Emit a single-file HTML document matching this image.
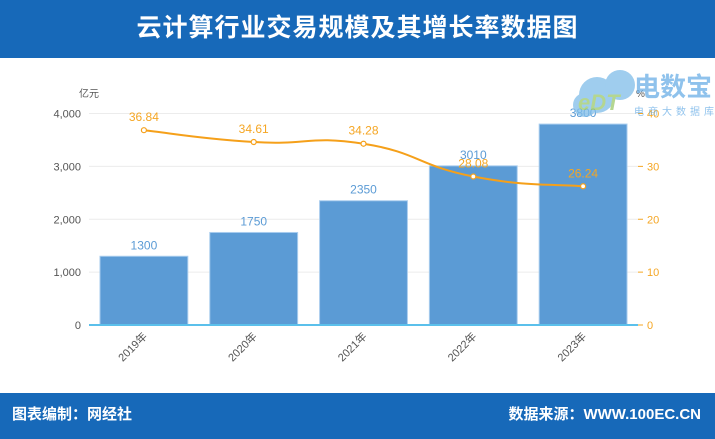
<!DOCTYPE html>
<html><head><meta charset="utf-8"><style>
body{margin:0;width:715px;height:439px;overflow:hidden;background:#fff;font-family:"Liberation Sans","Noto Sans CJK SC",sans-serif}
.top{position:absolute;left:0;top:0;width:715px;height:58px;background:#1769b9;color:#fff;font-size:25px;font-weight:bold;text-align:center;line-height:56px;letter-spacing:1px}
.bot{position:absolute;left:0;top:393px;width:715px;height:46px;background:#1769b9;color:#fff;font-size:15px;font-weight:bold;line-height:44px}
</style></head><body>
<div class="top">云计算行业交易规模及其增长率数据图</div>
<svg width="715" height="439" style="position:absolute;left:0;top:0">
<g id="g"></g>
<g opacity="0.75">
<circle cx="597" cy="95" r="18" fill="#7fbde9"/><circle cx="620" cy="85" r="15" fill="#7fbde9"/><circle cx="585" cy="105" r="12" fill="#7fbde9"/>
<text x="578" y="110" font-size="22" font-weight="bold" fill="#9cc96b" font-style="italic">eDT</text>
<text x="634" y="96" font-size="26" font-weight="bold" fill="#6aaee6">电数宝</text>
<text x="634" y="115" font-size="10" fill="#6aaee6" letter-spacing="4">电商大数据库</text>
</g>
</svg>
<div class="bot"><span style="position:absolute;left:12px">图表编制：网经社</span><span style="position:absolute;right:14px">数据来源：WWW.100EC.CN</span></div>
<script>
const categories=["2019年","2020年","2021年","2022年","2023年"];
const scaleValues=[1300,1750,2350,3010,3800];
const growthValues=[36.84,34.61,34.28,28.08,26.24];
const leftTicks=[0,1000,2000,3000,4000];
const leftTickLabels=["0","1,000","2,000","3,000","4,000"];
const rightTicks=[0,10,20,30,40];
const NS="http://www.w3.org/2000/svg";
const g=document.getElementById('g');
const X0=89,X1=638,Y0=325,Y1=113.5;
const band=(X1-X0)/categories.length;
const xc=i=>X0+band*(i+0.5);
const yL=v=>Y0-(v/4000)*(Y0-Y1);
const yR=v=>Y0-(v/40)*(Y0-Y1);
function mk(t,a,txt){const e=document.createElementNS(NS,t);for(const k in a)e.setAttribute(k,a[k]);if(txt!==undefined)e.textContent=txt;g.appendChild(e);return e;}
leftTicks.forEach((v,i)=>{
 if(v>0){const l=mk('line',{x1:X0,x2:X1,y1:yL(v),y2:yL(v),stroke:'#ececec'});
 
 }
 const t=mk('text',{x:X0-8,y:yL(v)+4,'text-anchor':'end','font-size':11,fill:'#555'},leftTickLabels[i]);
 
 
});
rightTicks.forEach(v=>{
 const l=mk('line',{x1:X1,x2:X1+5,y1:yR(v),y2:yR(v),stroke:'#f5a623'});
 
 
 const t=mk('text',{x:X1+9,y:yR(v)+4,'font-size':11,fill:'#f5a623'},String(v));
 
 
});
let u=mk('text',{x:79,y:97,'font-size':10,fill:'#555'},'亿元');


u=mk('text',{x:636,y:97,'font-size':10,fill:'#555'},'%');


const bw=band*0.8;
scaleValues.forEach((v,i)=>{
 const r=mk('rect',{x:xc(i)-bw/2,y:yL(v),width:bw,height:Y0-yL(v),fill:'#5b9bd5',stroke:'#a9cdee','stroke-width':1});
 
 
 const t=mk('text',{x:xc(i),y:yL(v)-7,'text-anchor':'middle','font-size':12,fill:'#5b9bd5'},String(v));
 
 
 const c=mk('text',{transform:`translate(${xc(i)+4},${Y0+12}) rotate(-45)`,'text-anchor':'end','font-size':11,fill:'#555'},categories[i]);
 
 
});
const ax=mk('line',{x1:X0,x2:X1,y1:Y0,y2:Y0,stroke:'#5bc0eb','stroke-width':2});


const pts=growthValues.map((v,i)=>[xc(i),yR(v)]);
let d='M'+pts[0][0]+','+pts[0][1];
const k=0.25;
for(let i=1;i<pts.length;i++){
 const p0=pts[Math.max(0,i-2)],p=pts[i-1],q=pts[i],q1=pts[Math.min(pts.length-1,i+1)];
 const c1=[p[0]+(q[0]-p0[0])*k,p[1]+(q[1]-p0[1])*k];
 const c2=[q[0]-(q1[0]-p[0])*k,q[1]-(q1[1]-p[1])*k];
 d+=` C${c1[0]},${c1[1]} ${c2[0]},${c2[1]} ${q[0]},${q[1]}`;
}
const ln=mk('path',{d:d,fill:'none',stroke:'#f5a01a','stroke-width':2});


growthValues.forEach((v,i)=>{
 const c=mk('circle',{cx:pts[i][0],cy:pts[i][1],r:2.5,fill:'#fff',stroke:'#f5a01a','stroke-width':1.2});
 
 
 const t=mk('text',{x:pts[i][0],y:pts[i][1]-9,'text-anchor':'middle','font-size':12,fill:'#f5a623'},v.toFixed(2));
 
 
});
</script>
</body></html>
